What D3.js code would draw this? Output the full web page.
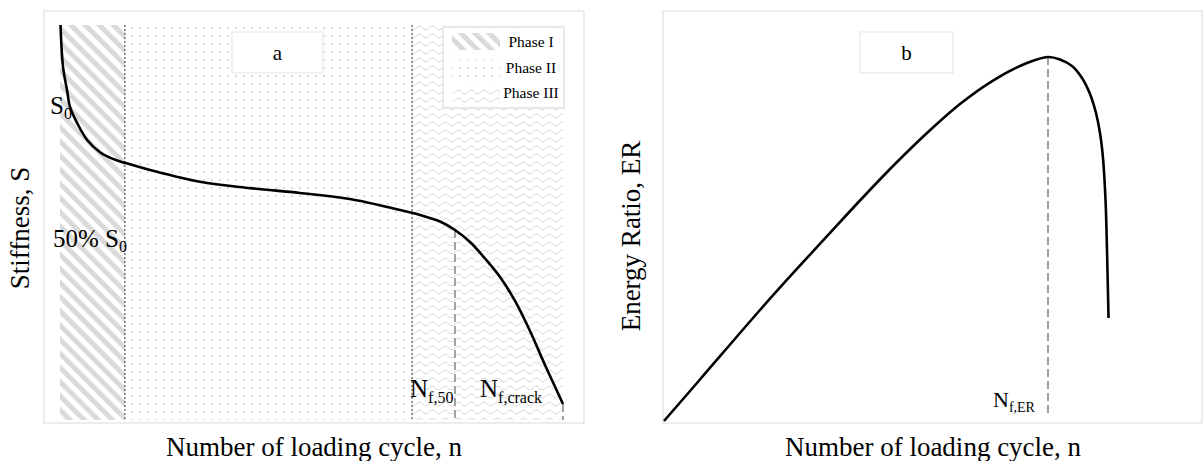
<!DOCTYPE html>
<html>
<head>
<meta charset="utf-8">
<script src="https://cdn.jsdelivr.net/npm/d3@7/dist/d3.min.js"></script>
<style>
  html, body { margin: 0; padding: 0; background: #fff; }
  svg { display: block; }
  text { font-family: "Liberation Serif", "Times New Roman", serif; fill: #000; }
</style>
</head>
<body>
<svg id="chart" width="1203" height="461"></svg>
<script>
// ---- Panel a: stiffness vs. number of loading cycles (normalised units) ----
const stiffN = [0.1, 0.6, 1.4, 2.0, 3.4, 5.4, 7.95, 10.5, 12.9, 17.9, 27.8, 37.8, 47.71, 57.65,
                67.59, 71.57, 75.55, 78.53, 81.51, 84.49, 87.48, 90.46, 93.44, 96.42, 100];
const stiffS = [100, 89.4, 83.5, 79.2, 75.2, 70.9, 67.8, 66.1, 65.1, 63.3, 60.3, 58.7, 57.47, 55.95,
                53.16, 51.90, 50.25, 48.10, 45.06, 40.89, 36.20, 30.13, 22.53, 13.92, 4.05];
const phaseNames = ["Phase I", "Phase II", "Phase III"];
const phaseBounds = [0, 12.9, 70.0, 100];
const failureN = [78.53, 100];     // N_f,50 and N_f,crack
const failureS = [48.10, 4.05];

// ---- Panel b: energy ratio vs. number of loading cycles ----
const erN = [0, 6.84, 18.25, 24.52, 30.99, 37.26, 43.54, 50.0, 56.27, 62.55, 69.01, 73.0,
             75.29, 77.57, 79.47, 80.99, 82.13, 82.89, 83.46, 83.94, 84.22, 84.51];
const erV = [0, 10.48, 28.03, 37.32, 46.67, 55.68, 64.39, 72.73, 80.05, 85.98, 90.40, 91.92,
             91.29, 89.65, 86.62, 82.58, 77.78, 72.73, 66.41, 55.81, 43.18, 26.01];
const erPeakN = 73.0, erPeakV = 91.92;

const svg = d3.select("#chart");

// ---- fill patterns for the three phases ----
const defs = svg.append("defs");
const hatch = defs.append("pattern").attr("id", "hatch")
  .attr("patternUnits", "userSpaceOnUse").attr("width", 10).attr("height", 10)
  .attr("patternTransform", "rotate(-45)");
hatch.append("rect").attr("x", 0).attr("y", 0).attr("width", 5).attr("height", 10).attr("fill", "#dadada");

const dots = defs.append("pattern").attr("id", "dots")
  .attr("patternUnits", "userSpaceOnUse").attr("width", 8).attr("height", 8);
dots.append("circle").attr("cx", 4).attr("cy", 4).attr("r", 0.9).attr("fill", "#cbcbcb");

const wave = defs.append("pattern").attr("id", "wave")
  .attr("patternUnits", "userSpaceOnUse").attr("width", 13).attr("height", 8);
wave.append("path").attr("d", "M0,4 C2.2,1.6 4.3,1.6 6.5,4 S10.8,6.4 13,4")
  .attr("fill", "none").attr("stroke", "#d2d2d2").attr("stroke-width", 1);
const fills = ["url(#hatch)", "url(#dots)", "url(#wave)"];

// ---- frames ----
const frameColor = "#e6e6e6";
svg.append("rect").attr("x", 44).attr("y", 11).attr("width", 540).attr("height", 412)
  .attr("fill", "#fff").attr("stroke", frameColor).attr("stroke-width", 1.5);
svg.append("rect").attr("x", 663).attr("y", 11).attr("width", 539).attr("height", 412)
  .attr("fill", "#fff").attr("stroke", frameColor).attr("stroke-width", 1.5);

const smooth = d3.curveCatmullRom.alpha(0.5);

// ================= Panel a =================
const xA = d3.scaleLinear().domain([0, 100]).range([60, 563]);
const yA = d3.scaleLinear().domain([0, 100]).range([420, 25]);

const gA = svg.append("g");
gA.selectAll("rect.phase").data(phaseNames).join("rect").attr("class", "phase")
  .attr("x", (d, i) => xA(phaseBounds[i]))
  .attr("width", (d, i) => xA(phaseBounds[i + 1]) - xA(phaseBounds[i]))
  .attr("y", yA(100)).attr("height", yA(0) - yA(100))
  .attr("fill", (d, i) => fills[i]);

// phase boundaries
gA.selectAll("line.bound").data(phaseBounds.slice(1, 3)).join("line").attr("class", "bound")
  .attr("x1", d => xA(d)).attr("x2", d => xA(d))
  .attr("y1", yA(100)).attr("y2", yA(0))
  .attr("stroke", "#555").attr("stroke-width", 1.2).attr("stroke-dasharray", "2,2");

// failure markers
gA.selectAll("line.fail").data(failureN).join("line").attr("class", "fail")
  .attr("x1", d => xA(d)).attr("x2", d => xA(d))
  .attr("y1", (d, i) => yA(failureS[i])).attr("y2", yA(0))
  .attr("stroke", "#a0a0a0").attr("stroke-width", 2).attr("stroke-dasharray", "8,4");

const lineA = d3.line().x(d => xA(d[0])).y(d => yA(d[1])).curve(smooth);
gA.append("path").datum(d3.zip(stiffN, stiffS)).attr("d", lineA)
  .attr("fill", "none").attr("stroke", "#000").attr("stroke-width", 2.6);

// annotations
function subLabel(g, x, y, main, sub, size, subSize, dy) {
  const t = g.append("text").attr("x", x).attr("y", y).style("font-size", size + "px").text(main);
  t.append("tspan").attr("dy", dy).style("font-size", subSize + "px").text(sub);
  return t;
}
subLabel(gA, 50, 114, "S", "0", 25, 16, 5);
subLabel(gA, 53, 247, "50% S", "0", 25, 16, 5);
subLabel(gA, 410, 397, "N", "f,50", 25, 16, 6);
subLabel(gA, 480, 397, "N", "f,crack", 25, 16, 6);

// panel tag
gA.append("rect").attr("x", 232).attr("y", 32).attr("width", 91).attr("height", 41)
  .attr("fill", "#fff").attr("stroke", "#e8e8e8").attr("stroke-width", 1.2);
gA.append("text").attr("x", 277.5).attr("y", 60).attr("text-anchor", "middle")
  .style("font-size", "21px").text("a");

// legend
const leg = gA.append("g");
leg.append("rect").attr("x", 443).attr("y", 27).attr("width", 121).attr("height", 81)
  .attr("fill", "#fff").attr("stroke", "#e8e8e8").attr("stroke-width", 2);
const legY = [33, 60, 86];
const legBase = [47, 73, 98];
leg.selectAll("rect.sw").data(phaseNames).join("rect").attr("class", "sw")
  .attr("x", 452).attr("width", 48).attr("y", (d, i) => legY[i]).attr("height", 17)
  .attr("fill", (d, i) => fills[i]);
leg.selectAll("text.lt").data(phaseNames).join("text").attr("class", "lt")
  .attr("x", 531).attr("y", (d, i) => legBase[i]).attr("text-anchor", "middle")
  .style("font-size", "15.5px").text(d => d);

// axis titles
gA.append("text").attr("x", 314).attr("y", 456).attr("text-anchor", "middle")
  .style("font-size", "27px").text("Number of loading cycle, n");
gA.append("text").attr("transform", "translate(29,228) rotate(-90)").attr("text-anchor", "middle")
  .style("font-size", "27px").text("Stiffness, S");

// ================= Panel b =================
const xB = d3.scaleLinear().domain([0, 100]).range([664, 1190]);
const yB = d3.scaleLinear().domain([0, 100]).range([421, 25]);
const gB = svg.append("g");

gB.append("line").attr("x1", xB(erPeakN)).attr("x2", xB(erPeakN))
  .attr("y1", yB(erPeakV)).attr("y2", yB(1))
  .attr("stroke", "#a0a0a0").attr("stroke-width", 2).attr("stroke-dasharray", "8,4");

const lineB = d3.line().x(d => xB(d[0])).y(d => yB(d[1])).curve(smooth);
gB.append("path").datum(d3.zip(erN, erV)).attr("d", lineB)
  .attr("fill", "none").attr("stroke", "#000").attr("stroke-width", 2.6);

subLabel(gB, 993, 407, "N", "f,ER", 22, 14, 5);

gB.append("rect").attr("x", 860).attr("y", 32).attr("width", 93).attr("height", 41)
  .attr("fill", "#fff").attr("stroke", "#e8e8e8").attr("stroke-width", 1.2);
gB.append("text").attr("x", 906.5).attr("y", 60).attr("text-anchor", "middle")
  .style("font-size", "21px").text("b");

gB.append("text").attr("x", 933).attr("y", 456).attr("text-anchor", "middle")
  .style("font-size", "27px").text("Number of loading cycle, n");
gB.append("text").attr("transform", "translate(640,236) rotate(-90)").attr("text-anchor", "middle")
  .style("font-size", "27px").text("Energy Ratio, ER");
</script>
</body>
</html>
